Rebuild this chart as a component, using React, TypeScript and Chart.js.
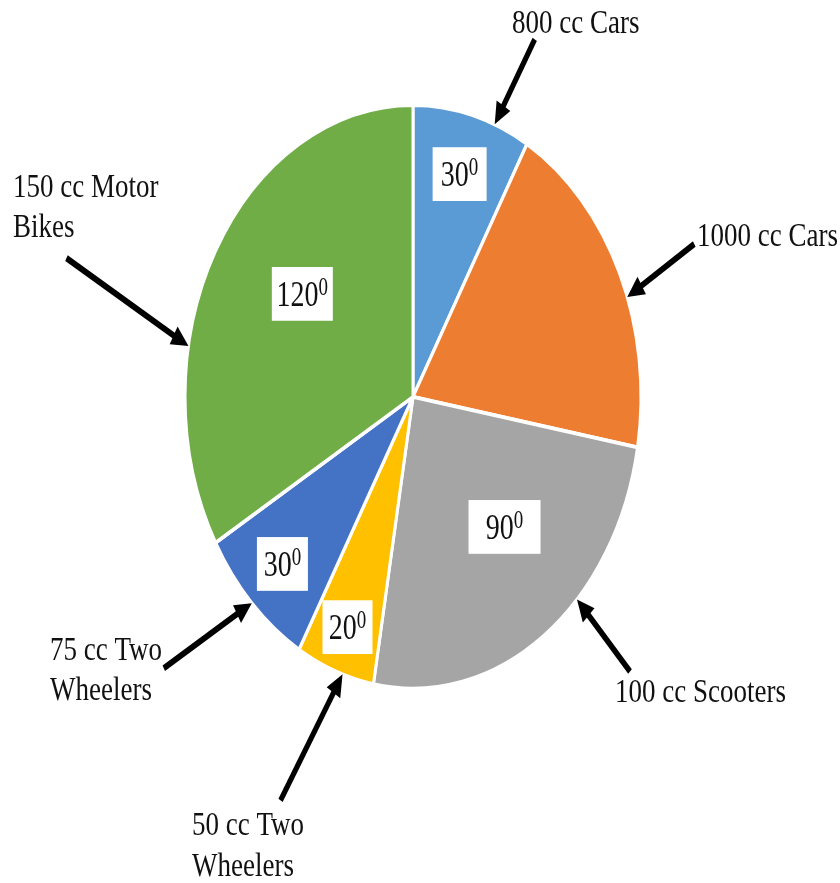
import React, { useEffect, useRef } from 'react';
import { Chart, registerables } from 'chart.js';

Chart.register(...registerables);

// ---- data ----
const categories = [
  '800 cc Cars',
  '1000 cc Cars',
  '100 cc Scooters',
  '50 cc Two Wheelers',
  '75 cc Two Wheelers',
  '150 cc Motor Bikes',
];
const degrees = [30, 70, 90, 20, 30, 120];
const valueLabels = ['30', '', '90', '20', '30', '120'];
const colors = ['#5B9BD5', '#ED7D31', '#A5A5A5', '#FFC000', '#4472C4', '#70AD47'];

// ---- styling / layout ----
const W = 840;
const H = 883;
const S = 1.28; // vertical stretch of the whole picture
const RADIUS = 228;
const CX = 413;
const CY = 310; // internal (unstretched) coordinates

const labelRadiusFrac = [0.79, 0, 0.6, 0.84, 0.81, 0.6];
const labelAngleShift = [0, 0, -7, 0, 0, 6];
const labelBoxW = [54, 0, 72, 50, 51, 61];
const labelBoxH = 42;

// callouts: text position in page pixels, arrow tip angle (deg clockwise from top), tail offset from tip (page px)
const calloutLines = [
  ['800 cc Cars'],
  ['1000 cc Cars'],
  ['100 cc Scooters'],
  ['50 cc Two', 'Wheelers'],
  ['75 cc Two', 'Wheelers'],
  ['150 cc Motor', 'Bikes'],
];
const calloutX = [512, 697, 615, 192, 50, 13];
const calloutBaselines = [[33], [246], [702], [835, 876], [660, 700], [197, 237]];
const tipAngles = [21, 70, 134, 198, 225, 280];
const tailOffsets = [
  [40, -85],
  [67, -53],
  [53, 72],
  [-62, 126],
  [-88, 65],
  [-122, -88],
];

const SERIF = '"Liberation Serif", "Times New Roman", serif';

function drawArrow(ctx: CanvasRenderingContext2D, sx: number, sy: number, tx: number, ty: number) {
  const dx = tx - sx;
  const dy = ty - sy;
  const len = Math.hypot(dx, dy);
  const ux = dx / len;
  const uy = dy / len;
  const headLen = 17;
  const headHalf = 8;
  const bx = tx - ux * headLen;
  const by = ty - uy * headLen;
  ctx.save();
  ctx.strokeStyle = '#000';
  ctx.fillStyle = '#000';
  ctx.lineWidth = 5;
  ctx.lineCap = 'butt';
  ctx.beginPath();
  ctx.moveTo(sx, sy);
  ctx.lineTo(bx + ux * 2, by + uy * 2);
  ctx.stroke();
  ctx.beginPath();
  ctx.moveTo(tx, ty);
  ctx.lineTo(bx - uy * headHalf, by + ux * headHalf);
  ctx.lineTo(bx + uy * headHalf, by - ux * headHalf);
  ctx.closePath();
  ctx.fill();
  ctx.restore();
}

const annotPlugin = {
  id: 'annot',
  beforeDatasetsDraw(chart: any) {
    chart.ctx.save();
    chart.ctx.scale(1, S);
  },
  afterDatasetsDraw(chart: any) {
    chart.ctx.restore();
  },
  afterDraw(chart: any) {
    const ctx: CanvasRenderingContext2D = chart.ctx;
    const meta = chart.getDatasetMeta(0);
    ctx.save();
    ctx.scale(1, S);

    // value labels in white boxes
    meta.data.forEach((arc: any, i: number) => {
      const txt = valueLabels[i];
      if (!txt) return;
      const p = arc.getProps(['x', 'y', 'startAngle', 'endAngle', 'outerRadius'], true);
      const mid = (p.startAngle + p.endAngle) / 2 + (labelAngleShift[i] * Math.PI) / 180;
      const r = p.outerRadius * labelRadiusFrac[i];
      const cx = p.x + Math.cos(mid) * r;
      const cy = p.y + Math.sin(mid) * r;
      const bw = labelBoxW[i];
      ctx.fillStyle = '#ffffff';
      ctx.fillRect(cx - bw / 2, cy - labelBoxH / 2, bw, labelBoxH);

      ctx.font = `28px ${SERIF}`;
      const mainW = ctx.measureText(txt).width;
      ctx.font = `19px ${SERIF}`;
      const supW = ctx.measureText('0').width;
      const total = mainW + supW;
      const x0 = cx - total / 2;
      const base = cy + 9.5;
      ctx.fillStyle = '#111';
      ctx.textAlign = 'left';
      ctx.textBaseline = 'alphabetic';
      ctx.font = `28px ${SERIF}`;
      ctx.fillText(txt, x0, base);
      ctx.font = `19px ${SERIF}`;
      ctx.fillText('0', x0 + mainW, base - 9);
    });

    // callouts with arrows
    const a0 = meta.data[0].getProps(['x', 'y', 'outerRadius'], true);
    calloutLines.forEach((lines, i) => {
      const th = ((tipAngles[i] - 90) * Math.PI) / 180;
      const tx = a0.x + Math.cos(th) * a0.outerRadius;
      const ty = a0.y + Math.sin(th) * a0.outerRadius;
      const sx = tx + tailOffsets[i][0];
      const sy = ty + tailOffsets[i][1] / S;
      drawArrow(ctx, sx, sy, tx, ty);

      ctx.fillStyle = '#111';
      ctx.font = `27px ${SERIF}`;
      ctx.textAlign = 'left';
      ctx.textBaseline = 'alphabetic';
      lines.forEach((ln, k) => {
        ctx.fillText(ln, calloutX[i], calloutBaselines[i][k] / S);
      });
    });

    ctx.restore();
  },
};

export default function App() {
  const ref = useRef<HTMLCanvasElement | null>(null);

  useEffect(() => {
    if (!ref.current) return;
    const chart = new Chart(ref.current, {
      type: 'pie',
      data: {
        labels: categories,
        datasets: [
          {
            data: degrees,
            backgroundColor: colors,
            borderColor: '#ffffff',
            borderWidth: 3,
            radius: RADIUS,
            clip: false,
          } as any,
        ],
      },
      options: {
        responsive: false,
        animation: false,
        devicePixelRatio: 1,
        layout: {
          padding: {
            left: CX - RADIUS,
            right: W - CX - RADIUS,
            top: CY - RADIUS,
            bottom: H - CY - RADIUS,
          },
        },
        plugins: {
          legend: { display: false },
          tooltip: { enabled: false },
        },
      },
      plugins: [annotPlugin],
    });
    return () => chart.destroy();
  }, []);

  return (
    <div style={{ position: 'absolute', left: 0, top: 0, width: W, height: H, background: '#fff', overflow: 'hidden' }}>
      <canvas ref={ref} width={W} height={H} style={{ display: 'block' }} />
    </div>
  );
}
